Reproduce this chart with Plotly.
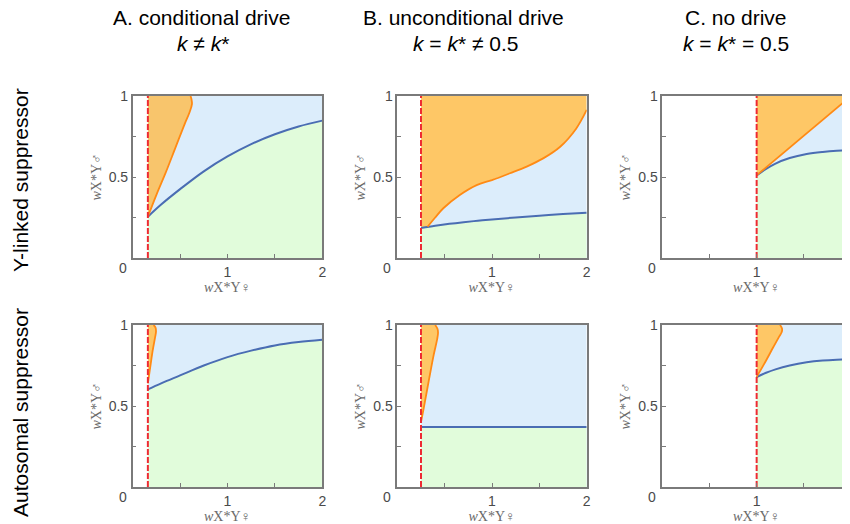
import plotly.graph_objects as go

# ---------------- data ----------------
col_titles = ["A. conditional drive", "B. unconditional drive", "C. no drive"]
col_subtitles = ["<i>k</i> ≠ <i>k</i>*", "<i>k</i> = <i>k</i>* ≠ 0.5", "<i>k</i> = <i>k</i>* = 0.5"]
row_titles = ["Y-linked suppressor", "Autosomal suppressor"]

x_tickvals = [0, 0.5, 1, 1.5, 2]
x_ticktext = ["", "", "1", "", "2"]
y_tickvals = [0, 0.25, 0.5, 0.75, 1]
y_ticktext = ["", "", "0.5", "", "1"]

# Panel A, Y-linked
a_top_x0 = 0.16
a_top_blue_x = [0.16, 0.3, 0.5, 0.75, 1.0, 1.25, 1.5, 1.75, 2.0]
a_top_blue_y = [0.255, 0.33, 0.425, 0.535, 0.627, 0.703, 0.764, 0.812, 0.848]
a_top_orange_x = [0.16, 0.25, 0.35, 0.45, 0.55, 0.6, 0.625, 0.62, 0.61]
a_top_orange_y = [0.255, 0.39, 0.53, 0.68, 0.83, 0.9, 0.95, 0.98, 1.0]

# Panel B, Y-linked
b_top_x0 = 0.25
b_top_blue_x = [0.25, 0.4, 0.55, 0.7, 0.85, 1.0, 1.25, 1.5, 1.75, 2.0]
b_top_blue_y = [0.185, 0.199, 0.211, 0.221, 0.23, 0.238, 0.25, 0.261, 0.271, 0.28]
b_top_orange_x = [0.32, 0.4, 0.486, 0.66, 0.838, 1.0, 1.19, 1.366, 1.54, 1.72, 1.89, 2.0]
b_top_orange_y = [0.193, 0.25, 0.307, 0.389, 0.45, 0.481, 0.523, 0.564, 0.615, 0.687, 0.80, 0.914]

# Panel C, Y-linked
c_top_x0 = 1.0
c_top_blue_x = [1.0, 1.1, 1.2, 1.35, 1.53, 1.7, 1.85, 2.0]
c_top_blue_y = [0.509, 0.55, 0.583, 0.617, 0.642, 0.655, 0.662, 0.665]
c_top_orange_x = [1.0, 2.0]
c_top_orange_y = [0.51, 1.0]

# Panel A, autosomal
a_bot_x0 = 0.16
a_bot_blue_x = [0.16, 0.3, 0.5, 0.75, 1.0, 1.25, 1.5, 1.75, 2.0]
a_bot_blue_y = [0.603, 0.64, 0.689, 0.75, 0.802, 0.842, 0.874, 0.895, 0.909]
a_bot_orange_x = [0.16, 0.175, 0.19, 0.21, 0.235, 0.246, 0.24, 0.22]
a_bot_orange_y = [0.64, 0.70, 0.76, 0.84, 0.92, 0.96, 0.985, 1.0]

# Panel B, autosomal
b_bot_x0 = 0.25
b_bot_blue_x = [0.25, 2.0]
b_bot_blue_y = [0.37, 0.37]
b_bot_orange_x = [0.25, 0.28, 0.333, 0.386, 0.42, 0.43, 0.425, 0.40]
b_bot_orange_y = [0.40, 0.49, 0.658, 0.82, 0.91, 0.95, 0.975, 1.0]

# Panel C, autosomal
c_bot_x0 = 1.0
c_bot_blue_x = [1.0, 1.1, 1.2, 1.35, 1.53, 1.7, 1.85, 2.0]
c_bot_blue_y = [0.679, 0.705, 0.726, 0.75, 0.77, 0.781, 0.786, 0.788]
c_bot_orange_x = [1.0, 1.08, 1.177, 1.24, 1.265, 1.27, 1.26, 1.247]
c_bot_orange_y = [0.68, 0.76, 0.864, 0.93, 0.955, 0.975, 0.99, 1.0]

# ---------------- styling ----------------
GREEN_FILL = "#E1FCDB"
BLUE_FILL = "#DCEDFB"
ORANGE_FILL = "#FEC766"
ORANGE_FILL_A = "#F8C56C"
ORANGE_LINE = "#FF8A14"
BLUE_LINE = "#4A6DB3"
RED = "#EE2B33"
FRAME = "#7a7a7a"
TICKFONT = dict(family="Liberation Sans, Arial, sans-serif", size=14, color="#4a4a4a")
TITLEFONT = dict(family="Liberation Serif, DejaVu Serif, serif", size=14, color="#6a6a6a")
BIGFONT = dict(family="Liberation Sans, Arial, sans-serif", size=21, color="#000000")

W, H = 850, 524
OFF = 8  # page body margin of the browser; positions below are screen pixels


def px_x(p):
    return (p - OFF) / W


def px_y(p):
    return 1 - (p - OFF) / H


x_domains = [[px_x(132.7), px_x(322.3)], [px_x(397.3), px_x(586.7)], [px_x(662.3), px_x(851)]]
y_domains = [[px_y(258), px_y(96)], [px_y(487), px_y(325)]]

panels = [
    # (row, col, x0, blue_x, blue_y, orange_x, orange_y, orange_mode)
    (0, 0, a_top_x0, a_top_blue_x, a_top_blue_y, a_top_orange_x, a_top_orange_y, "left"),
    (0, 1, b_top_x0, b_top_blue_x, b_top_blue_y, b_top_orange_x, b_top_orange_y, "above"),
    (0, 2, c_top_x0, c_top_blue_x, c_top_blue_y, c_top_orange_x, c_top_orange_y, "left"),
    (1, 0, a_bot_x0, a_bot_blue_x, a_bot_blue_y, a_bot_orange_x, a_bot_orange_y, "left"),
    (1, 1, b_bot_x0, b_bot_blue_x, b_bot_blue_y, b_bot_orange_x, b_bot_orange_y, "left"),
    (1, 2, c_bot_x0, c_bot_blue_x, c_bot_blue_y, c_bot_orange_x, c_bot_orange_y, "left"),
]

fig = go.Figure()
layout = dict(
    width=W, height=H, autosize=False,
    margin=dict(l=0, r=0, t=0, b=0, pad=0, autoexpand=False),
    paper_bgcolor="white", plot_bgcolor="white", showlegend=False,
)
annotations = []

for i, (r, c, x0, bx, by, ox, oy, mode) in enumerate(panels):
    n = i + 1
    xa = "x" if n == 1 else f"x{n}"
    ya = "y" if n == 1 else f"y{n}"
    xkey = "xaxis" if n == 1 else f"xaxis{n}"
    ykey = "yaxis" if n == 1 else f"yaxis{n}"

    # light blue background region right of the red line
    fig.add_trace(go.Scatter(x=[x0, 2], y=[1, 1], mode="lines", line=dict(width=0),
                             fill="tozeroy", fillcolor=BLUE_FILL, xaxis=xa, yaxis=ya,
                             hoverinfo="skip"))
    # green region under the blue curve
    fig.add_trace(go.Scatter(x=bx, y=by, mode="lines", line=dict(width=0, shape="spline"),
                             fill="tozeroy", fillcolor=GREEN_FILL, xaxis=xa, yaxis=ya,
                             hoverinfo="skip"))
    # orange region
    if mode == "above":
        px = [x0, x0, 2] + list(reversed(ox)) + [x0]
        py = [by[0], 1, 1] + list(reversed(oy)) + [by[0]]
    else:
        px = [x0] + list(ox) + [x0]
        py = [oy[0]] + list(oy) + [1]
        if oy[-1] < 1:
            px = [x0] + list(ox) + [ox[-1], x0]
            py = [oy[0]] + list(oy) + [1, 1]
    fig.add_trace(go.Scatter(x=px, y=py, mode="lines", line=dict(width=0),
                             fill="toself",
                             fillcolor=ORANGE_FILL_A if (r == 0 and c == 0) else ORANGE_FILL,
                             xaxis=xa, yaxis=ya, hoverinfo="skip"))
    # boundary curves
    fig.add_trace(go.Scatter(x=bx, y=by, mode="lines",
                             line=dict(color=BLUE_LINE, width=2, shape="spline"),
                             xaxis=xa, yaxis=ya, hoverinfo="skip"))
    fig.add_trace(go.Scatter(x=ox, y=oy, mode="lines",
                             line=dict(color=ORANGE_LINE, width=1.8, shape="spline"),
                             xaxis=xa, yaxis=ya, hoverinfo="skip"))
    # red dashed threshold
    fig.add_trace(go.Scatter(x=[x0, x0], y=[0, 1], mode="lines",
                             line=dict(color=RED, width=2, dash="6px,2px"),
                             xaxis=xa, yaxis=ya, hoverinfo="skip"))

    common = dict(showline=True, linecolor=FRAME, linewidth=1.5, ticks="inside", ticklen=4,
                  tickcolor=FRAME, tickwidth=1, tickfont=TICKFONT, showgrid=False,
                  zeroline=False, fixedrange=True, automargin=False)
    layout[xkey] = dict(common, domain=x_domains[c], range=[0, 2], anchor=ya, mirror=True,
                        tickvals=x_tickvals, ticktext=x_ticktext,
                        title=dict(text="<i>w</i>X*Y♀", font=TITLEFONT, standoff=0))
    layout[ykey] = dict(common, domain=y_domains[r], range=[0, 1], anchor=xa,
                        mirror=(c != 2), tickvals=y_tickvals, ticktext=y_ticktext,
                        title=dict(text="<i>w</i>X*Y♂", font=TITLEFONT, standoff=4))
    annotations.append(dict(x=0, y=0, xref=xa, yref=ya, text="0", showarrow=False,
                            xanchor="center", yanchor="middle", xshift=-10, yshift=-10,
                            font=TICKFONT))

# column titles (screen pixel positions)
title_x = [201, 463, 736]
sub_x = [202.5, 466, 736]
for c in range(3):
    annotations.append(dict(x=px_x(title_x[c]), y=px_y(18), xref="paper", yref="paper",
                            text=col_titles[c], showarrow=False, xanchor="center",
                            yanchor="middle", font=BIGFONT, borderpad=0))
    annotations.append(dict(x=px_x(sub_x[c]), y=px_y(43), xref="paper", yref="paper",
                            text=col_subtitles[c], showarrow=False, xanchor="center",
                            yanchor="middle", font=BIGFONT, borderpad=0))
# row titles
row_y = [180, 413]
for r in range(2):
    annotations.append(dict(x=px_x(20), y=px_y(row_y[r]), xref="paper", yref="paper",
                            text=row_titles[r], showarrow=False, textangle=-90,
                            xanchor="center", yanchor="middle", font=BIGFONT))

layout["annotations"] = annotations
fig.update_layout(**layout)
fig.write_html("out.html")
